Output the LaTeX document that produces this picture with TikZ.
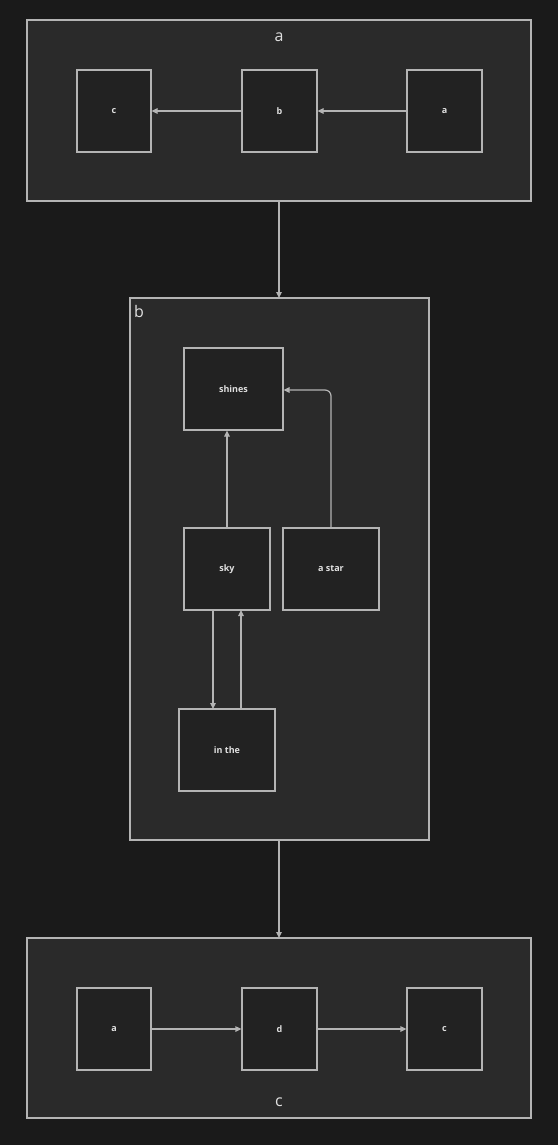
\documentclass[tikz,border=0pt]{standalone}
\usepackage{fontspec}
\setmainfont{Open Sans}
\usetikzlibrary{arrows.meta}
\definecolor{bgc}{HTML}{1A1A1A}
\definecolor{clfill}{HTML}{2A2A2A}
\definecolor{ndfill}{HTML}{222222}
\definecolor{linec}{HTML}{B4B4B4}
\definecolor{textc}{HTML}{E0E0E0}
\tikzset{
  cluster/.style={draw=linec, fill=clfill, line width=1.2pt},
  box/.style={draw=linec, fill=ndfill, line width=1.2pt, inner sep=0pt, text=textc, font=\fontsize{9}{10}\selectfont\bfseries},
  ttl/.style={text=textc, font=\fontsize{16}{18}\selectfont, inner sep=0pt},
  edge/.style={draw=linec, line width=1.2pt, -{Triangle[length=6pt,width=5.5pt]}},
}
\begin{document}
\begin{tikzpicture}[x=1pt,y=-1pt]
\path[fill=bgc] (0,0) rectangle (558,1145);
\useasboundingbox (0,0) rectangle (558,1145);
% cluster a
\draw[cluster] (27,20) rectangle (531,201);
\node[ttl] (ta) at (279,37) {a};
\coordinate (ca) at (279,110.5);
\node[box, minimum width=74pt, minimum height=82pt] (ac) at (114,111) {c};
\node[box, minimum width=75pt, minimum height=82pt] (ab) at (279.5,111) {b};
\node[box, minimum width=75pt, minimum height=82pt] (aa) at (444.5,111) {a};
\draw[edge] (aa) -- (ab);
\draw[edge] (ab) -- (ac);
% cluster b
\draw[cluster] (130,298) rectangle (429,840);
\node[ttl, anchor=north west] (tb) at (134,305) {b};
\node[box, minimum width=99pt, minimum height=82pt] (shines) at (233.5,389) {shines};
\node[box, minimum width=86pt, minimum height=82pt] (sky) at (227,569) {sky};
\node[box, minimum width=96pt, minimum height=82pt] (star) at (331,569) {a star};
\node[box, minimum width=96pt, minimum height=82pt] (inthe) at (227,750) {in the};
\draw[edge] (sky.north) -- (sky.north |- shines.south);
\draw[edge, rounded corners=6pt] (star.north) -- (331,390) -- (shines.east |- 0,390);
\draw[edge] (213,610) -- (213,709);
\draw[edge] (241,709) -- (241,610);
% cluster c
\draw[cluster] (27,938) rectangle (531,1118);
\node[ttl] (tc) at (279,1102) {c};
\node[box, minimum width=74pt, minimum height=82pt] (ca2) at (114,1029) {a};
\node[box, minimum width=75pt, minimum height=82pt] (cd) at (279.5,1029) {d};
\node[box, minimum width=75pt, minimum height=82pt] (cc) at (444.5,1029) {c};
\draw[edge] (ca2) -- (cd);
\draw[edge] (cd) -- (cc);
% inter-cluster edges
\coordinate (abot) at (279,201);
\coordinate (btop) at (279,298);
\coordinate (bbot) at (279,840);
\coordinate (ctop) at (279,938);
\draw[edge] (abot) -- (btop);
\draw[edge] (bbot) -- (ctop);
\end{tikzpicture}
\end{document}
